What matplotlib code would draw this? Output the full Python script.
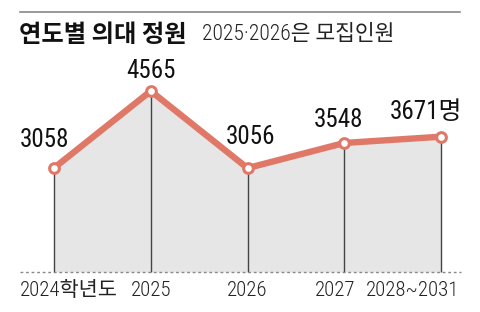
import matplotlib
matplotlib.use("Agg")
import matplotlib.pyplot as plt

years = ["2024학년도", "2025", "2026", "2027", "2028~2031"]
quota = [3058, 4565, 3056, 3548, 3671]
value_labels = ["3058", "4565", "3056", "3548", "3671명"]
title_bold = "연도별 의대 정원"
title_note = "2025·2026은 모집인원"

KR = ["Noto Sans CJK KR", "Noto Sans KR", "DejaVu Sans"]
NUM = ["Roboto Condensed"] + KR
plt.rcParams["font.family"] = NUM

LINE = "#e07868"
FILL = "#e6e6e6"

W, H = 480, 312
fig = plt.figure(figsize=(W / 100, H / 100), dpi=100)
ax = fig.add_axes([0, 0, 1, 1])
ax.set_axis_off()

# data -> pixel mapping: one category = 96.75 px from x=54; 1507 units = 77 px
x0_px, step_px = 54, 96.75
y_ref_px, y_ref_val, px_per_unit = 168, 3058, 77 / 1507
ax.set_xlim(-x0_px / step_px, (W - x0_px) / step_px)
ax.set_ylim(y_ref_val - (H - y_ref_px) / px_per_unit, y_ref_val + y_ref_px / px_per_unit)
base = y_ref_val - (272 - y_ref_px) / px_per_unit

x = list(range(len(years)))
ax.fill_between(x, quota, base, color=FILL, lw=0, zorder=1)
ax.vlines(x, base, quota, color="#444444", lw=1, zorder=2)
xl = ax.get_xlim()
ax.plot([xl[0] + 20 / step_px, xl[0] + 461 / step_px], [base, base],
        color="#888888", lw=1, ls=(0, (2, 2)), zorder=2)
ax.plot(x, quota, color=LINE, lw=4.6, solid_joinstyle="miter", zorder=3)
ax.plot(x, quota, "o", ms=7, mfc="white", mec=LINE, mew=2.2, zorder=4)

offsets = [(-10, 28), (0, 20), (3, 31), (-6, 23), (-15, 25)]
for xi, yi, lab, off in zip(x, quota, value_labels, offsets):
    ax.annotate(lab, (xi, yi), xytext=off, textcoords="offset pixels",
                ha="center", va="center", fontsize=18, color="#111111")

tick_pos = [(20, "left"), (151, "center"), (247, "center"), (355, "right"), (459, "right")]
for (px, ha), lab in zip(tick_pos, years):
    fig.text(px / W, 1 - 290 / H, lab, ha=ha, va="center", fontsize=15,
             fontweight="light", color="#222222")

# top rule and title
fig.add_artist(plt.Line2D([20 / W, 460 / W], [1 - 12 / H, 1 - 12 / H], color="#888888", lw=1.2))
fig.text(19 / W, 1 - 35 / H, title_bold, ha="left", va="center", fontsize=17.5,
         fontweight="bold", family=KR, color="#111111")
fig.text(202 / W, 1 - 35 / H, title_note, ha="left", va="center", fontsize=15.5,
         fontweight="light", color="#222222")

fig.savefig("out.png", dpi=100)
